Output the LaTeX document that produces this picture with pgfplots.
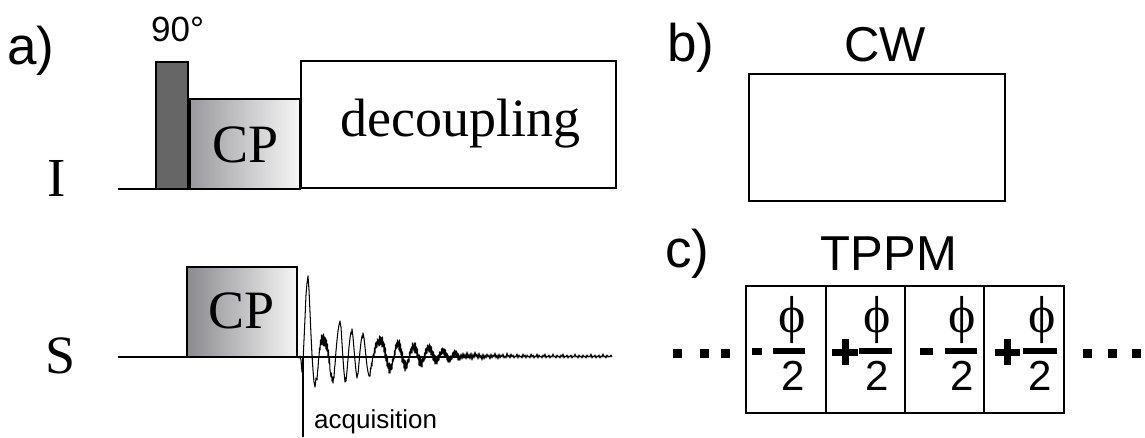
\documentclass[border=0pt]{standalone}
\usepackage{pgfplots}
\pgfplotsset{compat=1.18}
\usepackage{fontspec}
\setmainfont{Liberation Serif}
\newfontfamily\arial{Liberation Sans}
\newfontfamily\phifont{Liberation Serif}
\newcommand{\fs}[1]{\fontsize{#1}{#1}\selectfont}
\definecolor{pulsedark}{HTML}{666666}
\definecolor{cpleft}{HTML}{9A9A9E}
\definecolor{cpright}{HTML}{F6F6F6}
\begin{document}
\begin{tikzpicture}
\begin{axis}[x=1pt, y=1pt, xmin=0, xmax=1145, ymin=0, ymax=438, y dir=reverse,
  hide axis, clip=false, scale only axis]
\path (axis cs:0,0) rectangle (axis cs:1145,438);
% ---------- panel a, channel I ----------
\addplot[black, line width=2pt] coordinates {(118,189) (301,189)};
\addplot[draw=black, fill=pulsedark, line width=1.3pt] coordinates {(156,189) (156,62) (188,62) (188,189)} -- cycle;
\addplot[draw=black, left color=cpleft, right color=cpright, line width=1.3pt] coordinates {(190,189) (190,99) (300,99) (300,189)} -- cycle;
\addplot[draw=black, fill=white, line width=1.3pt] coordinates {(301,188) (301,61) (616,61) (616,188)} -- cycle;
\node[anchor=base west, inner sep=0] at (axis cs:7,65) {\arial\fs{53}a)};
\node[anchor=base west, inner sep=0] at (axis cs:151,42) {\arial\fs{35}90°};
\node[anchor=base, inner sep=0] at (axis cs:246,163) {\fs{54}CP};
\node[anchor=base west, inner sep=0] at (axis cs:340,137) {\fs{54}decoupling};
\node[anchor=base, inner sep=0] at (axis cs:57,197) {\fs{55}I};
% ---------- panel a, channel S ----------
\addplot[black, line width=2pt] coordinates {(118,357) (470,357)};
\addplot[draw=black, left color=cpleft!90!black, right color=cpright, line width=1.3pt] coordinates {(187,357) (187,267) (297,267) (297,357)} -- cycle;
\node[anchor=base, inner sep=0] at (axis cs:242,328) {\fs{54}CP};
\node[anchor=base, inner sep=0] at (axis cs:61,373) {\fs{54}S};
\addplot[black, line width=1.5pt] coordinates {(303,357) (303,437)};
\node[anchor=base west, inner sep=0] at (axis cs:314,428) {\arial\fs{26}acquisition};
% FID
\addplot[black, line width=1.05pt, line join=round] coordinates {
(296,357) (298,357) (299,358) (300,356) (301,360) (302,372) (303,362) (304,340) (305,318) (306,295) (307,283) (308,276) (309,290) (310,312) (311,335) (312,355) (313,370) (314,382) (315,387) (316,378)
(317,380) (317.5,372) (318,368) (318.5,360) (319,357) (319.5,348) (320,350) (320.5,340) (321,345) (321.5,335) (322,344) (322.5,336) (323,345) (323.5,334) (324,346) (324.5,337) (325,346) (325.5,338) (326,349) (326.5,340) (327,351) (327.5,344) (328,356) (328.5,350) (329,363) (329.5,358) (330,370)
(331,377) (331.5,373) (332,381) (332.5,377) (333,383) (333.5,377) (334,378) (334.5,368) (335,365) (336,351) (337,340) (338,331) (339,325) (340,321) (340.5,325) (341,327) (342,343) (343,359) (344,372) (345,382) (345.5,378) (346,381) (347,371) (348,359) (349,347) (350,338) (351,332) (351.5,334) (352,329) (353,337) (354,349) (355,361) (356,371) (357,378) (357.5,374) (358,374) (359,363) (360,351) (361,342) (362,336) (362.5,338) (363,333) (364,338) (365,347) (366,357) (367,366) (368,372) (369,376)
(370,376) (370.5,368) (371,369) (371.5,363) (372,366) (372.5,356) (373,358) (373.5,354) (374,356) (374.5,348) (375,353) (375.5,343) (376,348) (376.5,342) (377,347) (377.5,339) (378,344) (378.5,340) (379,346) (379.5,336) (380,345) (380.5,337) (381,344) (381.5,338) (382,347) (382.5,337) (383,346) (383.5,342) (384,352) (384.5,344) (385,358) (385.5,348) (386,361) (386.5,355) (387,366) (387.5,358) (388,368) (388.5,364) (389,373) (389.5,363) (390,373) (390.5,365) (391,370) (391.5,364) (392,369) (392.5,359) (393,362) (393.5,358) (394,359) (394.5,351) (395,355) (395.5,345) (396,349) (396.5,343) (397,348) (397.5,340) (398,346) (398.5,342) (399,350) (399.5,340) (400,352) (400.5,344) (401,355) (401.5,349) (402,362) (402.5,352) (403,363) (403.5,359) (404,368) (404.5,360) (405,371) (405.5,361) (406,369) (406.5,363) (407,368) (407.5,360) (408,363) (408.5,359) (409,362) (409.5,352) (410,357) (410.5,349) (411,353) (411.5,347) (412,353) (412.5,343) (413,349) (413.5,345) (414,351) (414.5,343) (415,353) (415.5,343) (416,353) (416.5,347) (417,357) (417.5,349) (418,359) (418.5,355) (419,365) (419.5,355) (420,366) (420.5,358) (421,366) (421.5,360) (422,367) (422.5,357) (423,362) (423.5,358) (424,361) (424.5,353) (425,359) (425.5,349) (426,354) (426.5,348) (427,353) (427.5,345) (428,350) (428.5,346) (429,352) (429.5,344) (430,352) (430.5,346) (431,355) (431.5,347) (432,355) (432.5,351) (433,360) (433.5,352) (434,361) (434.5,355) (435,364) (435.5,356) (436,363) (436.5,359) (437,364) (437.5,356) (438,361) (438.5,355) (439,360) (439.5,352) (440,356) (440.5,352) (441,355) (441.5,349) (442,354) (442.5,348) (443,353) (443.5,349) (444,355) (444.5,349) (445,356) (445.5,350) (446,357) (446.5,353) (447,360) (447.5,354) (448,362) (448.5,356) (449,362) (449.5,358) (450,362) (450.5,356) (451,360) (451.5,356) (452,359) (452.5,353) (453,356) (453.5,352) (454,356) (454.5,350) (455,355) (455.5,351) (456,357) (456.5,351) (457,357) (457.5,353) (458,360) (458.5,354) (459,360) (459.5,356)
(460,360) (461,354) (462,359) (463,353) (464,358) (465,354) (466,359) (467,352) (468,358) (469,354) (470,359) (471,353) (472,360) (473,354) (474,358) (475,352) (476,357) (477,354) (478,359) (479,353) (480,358) (481,355) (482,360) (483,354) (484,359) (485,355) (486,358) (487,354) (488,357) (489,355) (490,359) (491,354) (492,358) (493,355) (494,357) (495,353) (496,358) (497,355) (498,359) (499,354) (500,358) (501,355) (502,357) (503,354) (504,358) (505,356) (506,358) (507,353) (508,357) (509,355) (510,358) (511,354) (512,357) (513,355) (514,358) (515,356) (516,357) (517,354) (518,358) (519,355) (520,357) (521,356) (522,358) (523,354) (524,357) (525,355) (526,358) (527,355) (528,357) (529,356) (530,358) (531,354) (532,357) (533,355) (534,358) (535,356) (536,357) (537,354) (538,358) (539,355) (540,357) (541,356) (542,358) (543,355) (544,357) (545,354) (546,358) (547,356) (548,357) (549,355) (550,358) (551,356) (552,357) (553,354) (554,357) (555,356) (556,358) (557,355) (558,357) (559,356) (560,358) (561,355) (562,357) (563,354) (564,358) (565,356) (566,357) (567,355) (568,358) (569,356) (570,357) (571,355) (572,358) (573,356) (574,357) (575,354) (576,357) (577,356) (578,358) (579,355) (580,357) (581,356) (582,358) (583,355) (584,357) (585,356) (586,358) (587,355) (588,357) (589,356) (590,357) (591,354) (592,358) (593,356) (594,357) (595,355) (596,358) (597,356) (598,357) (599,355) (600,358) (601,356) (602,357) (603,354) (604,357) (605,356) (606,358) (607,355) (608,357) (609,356) (610,357) (611,355) (612,357)};
% ---------- panel b ----------
\node[anchor=base west, inner sep=0] at (axis cs:667,62) {\arial\fs{53}b)};
\node[anchor=base, inner sep=0] at (axis cs:885,62) {\arial\fs{49}CW};
\addplot[draw=black, fill=white, line width=1.3pt] coordinates {(749,201) (749,74) (1005,74) (1005,201)} -- cycle;
% ---------- panel c ----------
\node[anchor=base west, inner sep=0] at (axis cs:665,268) {\arial\fs{53}c)};
\node[anchor=base, inner sep=0] at (axis cs:889,270) {\arial\fs{49}TPPM};
\addplot[draw=black, line width=1.3pt] coordinates {(746,413) (746,286) (1064,286) (1064,413)} -- cycle;
\addplot[black, line width=1.3pt] coordinates {(826,286) (826,413)};
\addplot[black, line width=1.3pt] coordinates {(905,286) (905,413)};
\addplot[black, line width=1.3pt] coordinates {(984,286) (984,413)};
% signs
\addplot[black, line width=7pt] coordinates {(752,351) (762,351)};
\addplot[black, line width=7pt] coordinates {(920,351) (933,351)};
\addplot[black, line width=7pt] coordinates {(832,352) (858,352)};
\addplot[black, line width=7pt] coordinates {(845,339) (845,365)};
\addplot[black, line width=7pt] coordinates {(995,352) (1020,352)};
\addplot[black, line width=7pt] coordinates {(1007,339) (1007,365)};
% fraction bars
\addplot[black, line width=6pt] coordinates {(773,350.5) (805,350.5)};
\addplot[black, line width=6pt] coordinates {(859,350.5) (892,350.5)};
\addplot[black, line width=6pt] coordinates {(945,350.5) (977,350.5)};
\addplot[black, line width=6pt] coordinates {(1023,350.5) (1057,350.5)};
% phi and 2
\node[anchor=center, inner sep=0] at (axis cs:792,320) {\phifont\fs{52}ϕ};
\node[anchor=center, inner sep=0] at (axis cs:877,320) {\phifont\fs{52}ϕ};
\node[anchor=center, inner sep=0] at (axis cs:962,320) {\phifont\fs{52}ϕ};
\node[anchor=center, inner sep=0] at (axis cs:1042,320) {\phifont\fs{52}ϕ};
\node[anchor=base, inner sep=0] at (axis cs:793,390) {\arial\fs{42}2};
\node[anchor=base, inner sep=0] at (axis cs:877,390) {\arial\fs{42}2};
\node[anchor=base, inner sep=0] at (axis cs:962,390) {\arial\fs{42}2};
\node[anchor=base, inner sep=0] at (axis cs:1040,390) {\arial\fs{42}2};
% dots
\addplot[only marks, mark=square*, mark size=4pt, black] coordinates {(677.5,353.5) (704,353.5) (725,353.5) (1087.5,353.5) (1112.5,353.5) (1136,353.5)};
\end{axis}
\end{tikzpicture}
\end{document}
